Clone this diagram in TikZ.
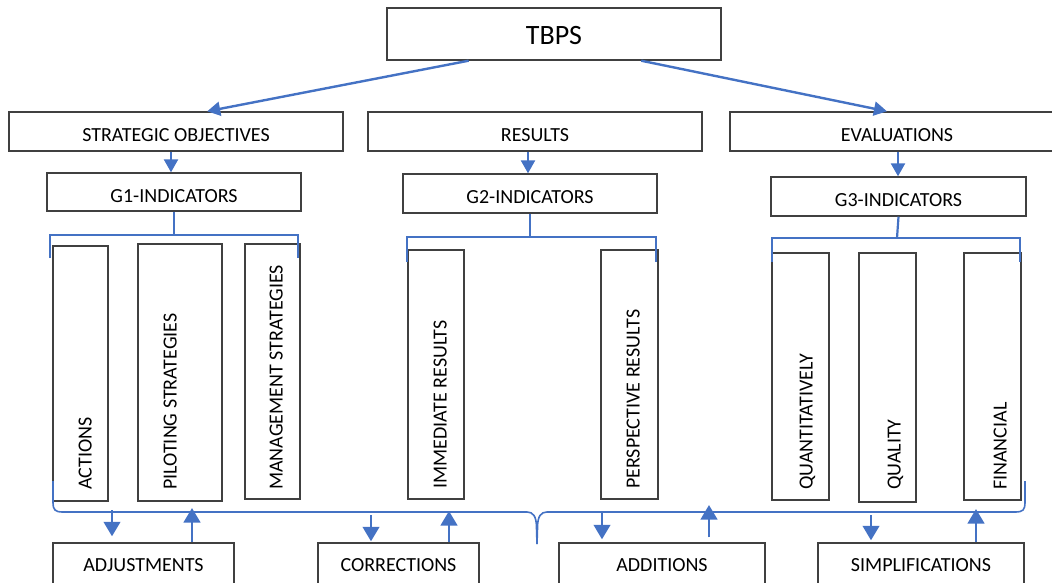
\documentclass[tikz,border=0pt]{standalone}
\usepackage{fontspec}
\setmainfont{Carlito}
\usetikzlibrary{arrows.meta,calc}
\definecolor{myblue}{HTML}{4472C4}
\definecolor{boxgray}{HTML}{404040}
\newcommand\lblfont{\fontsize{20}{24}\selectfont}
\newcommand\bigfont{\fontsize{28}{32}\selectfont}
\newcommand\mkbox[7]{\node[#7, minimum width={(#4-#2)*1pt}, minimum height={(#5-#3)*1pt}] (#1) at ({(#2+#4)/2},{(#3+#5)/2}) {#6};}
\begin{document}
\begin{tikzpicture}[x=1pt,y=-1pt,
 box/.style={draw=boxgray, line width=1.4pt, inner sep=0pt, fill=white, font=\lblfont, text=black},
 hbox/.style={box, text height=20pt, text depth=0pt},
 vtext/.style={rotate=90, anchor=base west, inner sep=0pt, font=\lblfont, text=black},
 arr/.style={draw=myblue, line width=2.4pt, -{Triangle[width=14pt,length=13pt]}},
 barr/.style={draw=myblue, line width=2.6pt, -{Triangle[width=16.5pt,length=14.5pt]}},
 bline/.style={draw=myblue, line width=2.2pt},
 bracestyle/.style={draw=myblue, line width=1.6pt}]
\useasboundingbox (0,0) rectangle (1052,582);
\clip (0,0) rectangle (1052,582);
% top level
\node[box, font=\bigfont, text height=21pt, text depth=0pt, minimum width=334pt, minimum height=52pt] (tbps) at (554,34) {TBPS};
\mkbox{so}{9}{112}{343}{151}{STRATEGIC OBJECTIVES}{hbox}
\mkbox{res}{368}{112}{702}{151}{RESULTS}{hbox}
\mkbox{ev}{730}{112}{1064}{151}{EVALUATIONS}{hbox}
\mkbox{g1}{47}{173}{301}{211}{G1-INDICATORS}{hbox}
\mkbox{g2}{403}{174}{657}{213}{G2-INDICATORS}{hbox}
\mkbox{g3}{771}{177}{1026}{216}{G3-INDICATORS}{hbox}
% vertical boxes
\mkbox{act}{53}{246}{108}{501}{}{box}
\mkbox{pil}{138}{244}{222}{501}{}{box}
\mkbox{man}{245}{244}{300}{499}{}{box}
\mkbox{imm}{408}{250}{464}{499}{}{box}
\mkbox{per}{601}{250}{658}{499}{}{box}
\mkbox{qua}{772}{253}{829}{500}{}{box}
\mkbox{qly}{859}{253}{916}{502}{}{box}
\mkbox{fin}{964}{253}{1021}{500}{}{box}
\node[vtext] (actT) at (91.5,490) {ACTIONS};
\node[vtext] (pilT) at (176.5,490) {PILOTING STRATEGIES};
\node[vtext] (manT) at (282.5,490) {MANAGEMENT STRATEGIES};
\node[vtext] (immT) at (446.5,489) {IMMEDIATE RESULTS};
\node[vtext] (perT) at (639.5,489) {PERSPECTIVE RESULTS};
\node[vtext] (quaT) at (812.5,490) {QUANTITATIVELY};
\node[vtext] (qlyT) at (900.5,490) {QUALITY};
\node[vtext] (finT) at (1006.5,490) {FINANCIAL};
% bottom boxes
\mkbox{adj}{53}{543}{234}{588}{ADJUSTMENTS}{box}
\mkbox{cor}{318}{543}{479}{588}{CORRECTIONS}{box}
\mkbox{add}{559}{543}{765}{588}{ADDITIONS}{box}
\mkbox{sim}{818}{543}{1024}{588}{SIMPLIFICATIONS}{box}
% top arrows
\draw[arr] ($(tbps.south west)!0.2455!(tbps.south east)$) -- ($(so.north west)!0.593!(so.north east)$);
\draw[arr] ($(tbps.south west)!0.76!(tbps.south east)$) -- ($(ev.north west)!0.47!(ev.north east)$);
\draw[arr] (171,0 |- so.south) -- (171,0 |- g1.north);
\draw[arr] (528,0 |- res.south) -- (528,0 |- g2.north);
\draw[arr] (898,0 |- ev.south) -- (898,0 |- g3.north);
% brackets
\coordinate (b1l) at (50,258); \coordinate (b1r) at (298,258);
\coordinate (b2l) at (407,262); \coordinate (b2r) at (656,262);
\coordinate (b3l) at (772,262); \coordinate (b3r) at (1020,262);
\draw[bline] (g1.south) -- (174,235);
\draw[bline] (b1l) -- (50,235) -- (298,235) -- (b1r);
\draw[bline] (g2.south) -- (530,237);
\draw[bline] (b2l) -- (407,237) -- (656,237) -- (b2r);
\draw[bline] (g3.south) -- (897,238);
\draw[bline] (b3l) -- (772,238) -- (1020,238) -- (b3r);
% big brace
\coordinate (brL) at (53,481);
\coordinate (brR) at (1025,481);
\coordinate (brTip) at (537,544);
\draw[bracestyle] (brL) -- (53,502) .. controls (53,510) and (55,512) .. (63,512) -- (527,512)
  .. controls (533,512) and (536.5,516) .. (536.5,528) -- (brTip);
\draw[bracestyle] (brTip) -- (537.5,528) .. controls (537.5,516) and (541,512) .. (547,512) -- (1015,512)
  .. controls (1023,512) and (1025,510) .. (1025,502) -- (brR);
% bottom arrows
\draw[barr, shorten >=6pt] (112,510) -- (adj.north -| 112,0);
\draw[barr] (adj.north -| 192,0) -- (192,508);
\draw[barr, shorten >=1pt] (371,515) -- (cor.north -| 371,0);
\draw[barr] (cor.north -| 449,0) -- (449,511);
\draw[barr, shorten >=3pt] (602,512) -- (add.north -| 602,0);
\draw[barr, shorten <=5pt] (add.north -| 709,0) -- (709,505);
\draw[barr, shorten >=2pt] (871,515) -- (sim.north -| 871,0);
\draw[barr] (sim.north -| 976,0) -- (976,509);
\end{tikzpicture}
\end{document}
